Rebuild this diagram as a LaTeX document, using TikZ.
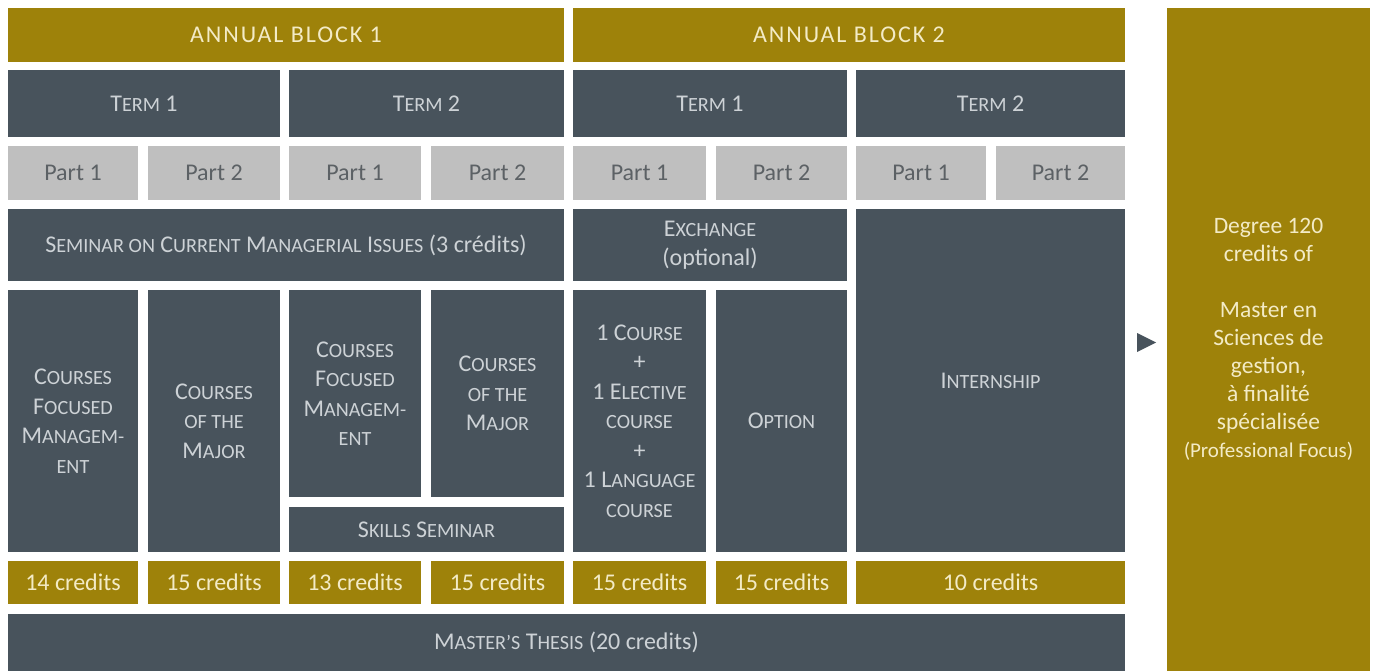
\documentclass[tikz,border=0pt]{standalone}
\usepackage{fontspec}
\setmainfont{Carlito}
\newfontfamily\spacedfont[LetterSpace=8]{Carlito}
\makeatletter
\newcommand\smc[1]{{\fontsize{\fpeval{0.84*\f@size}}{\f@baselineskip}\selectfont #1}}
\makeatother
\definecolor{gold}{HTML}{9E820A}
\definecolor{slate}{HTML}{48535C}
\definecolor{lgray}{HTML}{BFBFBF}
\definecolor{darktxt}{HTML}{CDD2D6}
\definecolor{creamtxt}{HTML}{F3EBC6}
\definecolor{parttxt}{HTML}{5C6165}
\newcommand\bx[6]{\node[#1, minimum width={(#4-#2)*1pt}, minimum height={(#5-#3)*1pt}] (#6) at ({(#2+#4)/2},{(#3+#5)/2})}
\begin{document}
\begin{tikzpicture}[x=1pt,y=-1pt,
  boxbase/.style={inner sep=0pt,outer sep=0pt,align=center,draw=none},
  darkbox/.style={boxbase,fill=slate,text=darktxt,font=\fontsize{24}{29.5}\selectfont},
  goldhead/.style={boxbase,fill=gold,text=creamtxt,font=\spacedfont\fontsize{24}{29}\selectfont},
  goldbox/.style={boxbase,fill=gold,text=creamtxt,font=\fontsize{24}{29}\selectfont},
  partbox/.style={boxbase,fill=lgray,text=parttxt,font=\fontsize{24}{29}\selectfont},
  degreebox/.style={boxbase,fill=gold,text=creamtxt,font=\fontsize{23.5}{28}\selectfont}]
\path[use as bounding box] (0,0) rectangle (1376,671);
% annual blocks
\bx{goldhead}{8}{8}{564}{62}{ab1}{ANNUAL BLOCK 1};
\bx{goldhead}{573}{8}{1125}{62}{ab2}{ANNUAL BLOCK 2};
% terms
\bx{darkbox}{8}{70}{280}{137}{t11}{T\smc{ERM} 1};
\bx{darkbox}{289}{70}{564}{137}{t12}{T\smc{ERM} 2};
\bx{darkbox}{573}{70}{847}{137}{t21}{T\smc{ERM} 1};
\bx{darkbox}{856}{70}{1125}{137}{t22}{T\smc{ERM} 2};
% parts
\bx{partbox}{8}{146}{138}{200}{p1}{Part 1};
\bx{partbox}{148}{146}{280}{200}{p2}{Part 2};
\bx{partbox}{289}{146}{421}{200}{p3}{Part 1};
\bx{partbox}{431}{146}{564}{200}{p4}{Part 2};
\bx{partbox}{573}{146}{706}{200}{p5}{Part 1};
\bx{partbox}{716}{146}{847}{200}{p6}{Part 2};
\bx{partbox}{856}{146}{986}{200}{p7}{Part 1};
\bx{partbox}{996}{146}{1125}{200}{p8}{Part 2};
% seminar / exchange / internship
\bx{darkbox}{8}{209}{564}{281}{sem}{S\smc{EMINAR ON} C\smc{URRENT} M\smc{ANAGERIAL} I\smc{SSUES} (3 crédits)};
\bx{darkbox}{573}{209}{847}{281}{exch}{E\smc{XCHANGE}\\(optional)};
\bx{darkbox}{856}{209}{1125}{552}{intern}{I\smc{NTERNSHIP}};
% courses
\bx{darkbox}{8}{290}{138}{552}{c1}{C\smc{OURSES}\\F\smc{OCUSED}\\M\smc{ANAGEM-}\\\smc{ENT}};
\bx{darkbox}{148}{290}{280}{552}{c2}{C\smc{OURSES}\\\smc{OF THE}\\M\smc{AJOR}};
\bx{darkbox}{289}{290}{421}{497}{c3}{C\smc{OURSES}\\F\smc{OCUSED}\\M\smc{ANAGEM-}\\\smc{ENT}};
\bx{darkbox}{431}{290}{564}{497}{c4}{C\smc{OURSES}\\\smc{OF THE}\\M\smc{AJOR}};
\bx{darkbox}{289}{507}{564}{552}{skills}{S\smc{KILLS} S\smc{EMINAR}};
\bx{darkbox}{573}{290}{706}{552}{c5}{1 C\smc{OURSE}\\+\\1 E\smc{LECTIVE}\\\smc{COURSE}\\+\\1 L\smc{ANGUAGE}\\\smc{COURSE}};
\bx{darkbox}{716}{290}{847}{552}{c6}{O\smc{PTION}};
% credits
\bx{goldbox}{8}{561}{138}{604}{cr1}{14 credits};
\bx{goldbox}{148}{561}{280}{604}{cr2}{15 credits};
\bx{goldbox}{289}{561}{421}{604}{cr3}{13 credits};
\bx{goldbox}{431}{561}{564}{604}{cr4}{15 credits};
\bx{goldbox}{573}{561}{706}{604}{cr5}{15 credits};
\bx{goldbox}{716}{561}{847}{604}{cr6}{15 credits};
\bx{goldbox}{856}{561}{1125}{604}{cr7}{10 credits};
% thesis
\bx{darkbox}{8}{614}{1125}{671}{thesis}{M\smc{ASTER'S} T\smc{HESIS} (20 credits)};
% degree
\bx{degreebox}{1167}{8}{1370}{671}{degree}{Degree 120\\credits of\\[28pt]Master en\\Sciences de\\gestion,\\à finalité\\spécialisée\\{\fontsize{21}{24}\selectfont (Professional Focus)}};
% arrow
\fill[slate] (1137,333) -- (1156,342.5) -- (1137,352) -- cycle;
\end{tikzpicture}
\end{document}
